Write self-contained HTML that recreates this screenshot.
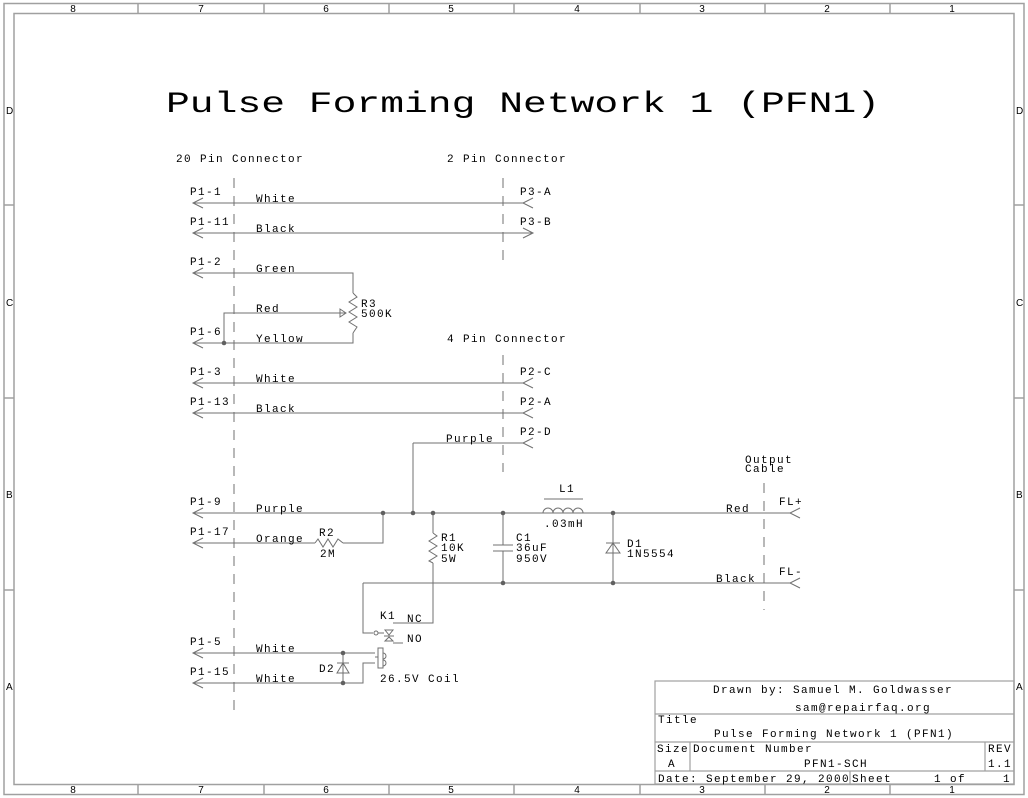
<!DOCTYPE html>
<html><head><style>
html,body{margin:0;padding:0;background:#fff;}
svg{display:block;}
text{font-family:"Liberation Mono",monospace;font-size:11px;fill:#000;letter-spacing:1.4px;}
.m{font-family:"Liberation Sans",sans-serif;font-size:10px;letter-spacing:0;}
</style></head><body>
<svg width="1028" height="798" viewBox="0 0 1028 798" xmlns="http://www.w3.org/2000/svg">
<rect width="1028" height="798" fill="#fff"/>
<g fill="none" stroke="#a0a0a0" stroke-width="1.5">
<rect x="4" y="3.5" width="1020" height="791"/>
<rect x="14" y="13.5" width="1000" height="771"/>
<path d="M138 3.5V13.5M264 3.5V13.5M389 3.5V13.5M514 3.5V13.5M640 3.5V13.5M765 3.5V13.5M890 3.5V13.5"/>
<path d="M138 784V794M264 784V794M389 784V794M514 784V794M640 784V794M765 784V794M890 784V794"/>
<path d="M4 205H14M4 398H14M4 590H14M1014 205H1024M1014 398H1024M1014 590H1024"/>
</g>
<g class="m">
<text class="m" x="73" y="12" text-anchor="middle">8</text><text class="m" x="201" y="12" text-anchor="middle">7</text><text class="m" x="326" y="12" text-anchor="middle">6</text><text class="m" x="451" y="12" text-anchor="middle">5</text><text class="m" x="577" y="12" text-anchor="middle">4</text><text class="m" x="702" y="12" text-anchor="middle">3</text><text class="m" x="827" y="12" text-anchor="middle">2</text><text class="m" x="952" y="12" text-anchor="middle">1</text>
<text class="m" x="73" y="793" text-anchor="middle">8</text><text class="m" x="201" y="793" text-anchor="middle">7</text><text class="m" x="326" y="793" text-anchor="middle">6</text><text class="m" x="451" y="793" text-anchor="middle">5</text><text class="m" x="577" y="793" text-anchor="middle">4</text><text class="m" x="702" y="793" text-anchor="middle">3</text><text class="m" x="827" y="793" text-anchor="middle">2</text><text class="m" x="952" y="793" text-anchor="middle">1</text>
<text class="m" x="6" y="114">D</text><text class="m" x="6" y="306">C</text><text class="m" x="6" y="498">B</text><text class="m" x="6" y="690">A</text>
<text class="m" x="1016" y="114">D</text><text class="m" x="1016" y="306">C</text><text class="m" x="1016" y="498">B</text><text class="m" x="1016" y="690">A</text>
</g>
<text x="166" y="112" style="font-size:30px;letter-spacing:0" textLength="714" lengthAdjust="spacingAndGlyphs">Pulse Forming Network 1 (PFN1)</text>
<!-- dashed connector lines -->
<g stroke="#a0a0a0" stroke-width="1.5" stroke-dasharray="10,8" fill="none">
<path d="M234 178V712M503 178V265M503 355V472M764 483V610"/>
</g>
<!-- wires -->
<g stroke="#707070" stroke-width="1" fill="none">
<path d="M193 203H523M193 233H533M193 273H353V293M353 333V343H193M224 343V313H346M193 383H523M193 413H523M413 443H523M413 443V513M193 513H790M193 543H315M343 543H383V513"/>
<path d="M433 513V533M433 563V623H393"/>
<path d="M503 513V545M503 551V583M613 513V583M363 583H790M363 583V633H373"/>
<path d="M193 653H375M193 683H363V663H375M343 653V683"/>
<path d="M393 643H403"/>
<!-- arrowheads left -->
<path d="M203 198L193 203L203 208M203 228L193 233L203 238M203 268L193 273L203 278M203 338L193 343L203 348M203 378L193 383L203 388M203 408L193 413L203 418M203 508L193 513L203 518M203 538L193 543L203 548M203 648L193 653L203 658M203 678L193 683L203 688"/>
<path d="M533 198L523 203L533 208M523 228L533 233L523 238M533 378L523 383L533 388M533 408L523 413L533 418M533 438L523 443L533 448M800 508L790 513L800 518M800 578L790 583L800 588"/>
<!-- R3 -->
<path d="M353 293L357 297L349 302L357 307L349 312L357 317L349 322L357 327L353 333"/>
<path d="M346 313L340 309V317Z"/>
<!-- R2 -->
<path d="M315 543L318 539L323 547L328 539L333 547L338 539L343 543"/>
<!-- R1 -->
<path d="M433 533L437 536L429 541L437 546L429 551L437 556L429 561L433 563"/>
<!-- C1 -->
<path d="M493 545H513M493 551H513"/>
<!-- L1 -->
<path d="M543 513a5 5 0 0 1 10 0a5 5 0 0 1 10 0a5 5 0 0 1 10 0a5 5 0 0 1 10 0M544 499H583"/>
<!-- D1 -->
<path d="M606 553H620L613 543Z M606 543H620"/>
<!-- D2 -->
<path d="M337 673H349L343 663Z M337 663H349"/>
<!-- K1 -->
<circle cx="376" cy="633" r="2"/>
<path d="M378 633H384M385 630H393L389 635ZM384 636H394M385 641H393L389 637Z"/>
<!-- coil -->
<rect x="378" y="648" width="5" height="20"/>
<path d="M383 653a3 3 0 0 1 0 6M383 660a3 3 0 0 1 0 6M375 657h3"/>
</g>
<g fill="#606060">
<circle cx="224" cy="343" r="2.3"/><circle cx="383" cy="513" r="2.3"/><circle cx="413" cy="513" r="2.3"/><circle cx="433" cy="513" r="2.3"/><circle cx="503" cy="513" r="2.3"/><circle cx="613" cy="513" r="2.3"/><circle cx="503" cy="583" r="2.3"/><circle cx="613" cy="583" r="2.3"/><circle cx="343" cy="653" r="2.3"/><circle cx="343" cy="683" r="2.3"/>
</g>
<!-- labels -->
<text x="176" y="162">20 Pin Connector</text>
<text x="447" y="162">2 Pin Connector</text>
<text x="447" y="342">4 Pin Connector</text>
<text x="190" y="195">P1-1</text><text x="256" y="202">White</text><text x="520" y="195">P3-A</text>
<text x="190" y="225">P1-11</text><text x="256" y="232">Black</text><text x="520" y="225">P3-B</text>
<text x="190" y="265">P1-2</text><text x="256" y="272">Green</text>
<text x="256" y="312">Red</text><text x="361" y="307">R3</text><text x="361" y="317">500K</text>
<text x="190" y="335">P1-6</text><text x="256" y="342">Yellow</text>
<text x="190" y="375">P1-3</text><text x="256" y="382">White</text><text x="520" y="375">P2-C</text>
<text x="190" y="405">P1-13</text><text x="256" y="412">Black</text><text x="520" y="405">P2-A</text>
<text x="446" y="442">Purple</text><text x="520" y="435">P2-D</text>
<text x="745" y="463">Output</text><text x="745" y="472">Cable</text>
<text x="190" y="505">P1-9</text><text x="256" y="512">Purple</text>
<text x="559" y="492">L1</text><text x="544" y="527">.03mH</text>
<text x="726" y="512">Red</text><text x="779" y="505">FL+</text>
<text x="190" y="535">P1-17</text><text x="256" y="542">Orange</text>
<text x="319" y="536">R2</text><text x="320" y="557">2M</text>
<text x="441" y="541">R1</text><text x="441" y="551">10K</text><text x="441" y="562">5W</text>
<text x="516" y="541">C1</text><text x="516" y="551">36uF</text><text x="516" y="562">950V</text>
<text x="627" y="547">D1</text><text x="627" y="557">1N5554</text>
<text x="716" y="582">Black</text><text x="779" y="575">FL-</text>
<text x="380" y="619">K1</text><text x="407" y="622">NC</text><text x="407" y="642">NO</text>
<text x="190" y="645">P1-5</text><text x="256" y="652">White</text>
<text x="319" y="672">D2</text><text x="380" y="682">26.5V Coil</text>
<text x="190" y="675">P1-15</text><text x="256" y="682">White</text>
<!-- title block -->
<g fill="none" stroke="#a0a0a0" stroke-width="1.2">
<rect x="655" y="681" width="359" height="103"/>
<path d="M655 714H1014M655 742H1014M655 771H1014M690 742V771M985 742V771M850 771V784"/>
</g>
<text x="713" y="693">Drawn by: Samuel M. Goldwasser</text>
<text x="795" y="711">sam@repairfaq.org</text>
<text x="658" y="723">Title</text>
<text x="714" y="737">Pulse Forming Network 1 (PFN1)</text>
<text x="657" y="752">Size</text><text x="693" y="752">Document Number</text><text x="988" y="752">REV</text>
<text x="668" y="767">A</text><text x="804" y="767">PFN1-SCH</text><text x="988" y="767">1.1</text>
<text x="658" y="782">Date: September 29, 2000</text><text x="852" y="782">Sheet</text><text x="934" y="782">1 of</text><text x="1003" y="782">1</text>
</svg>
</body></html>
